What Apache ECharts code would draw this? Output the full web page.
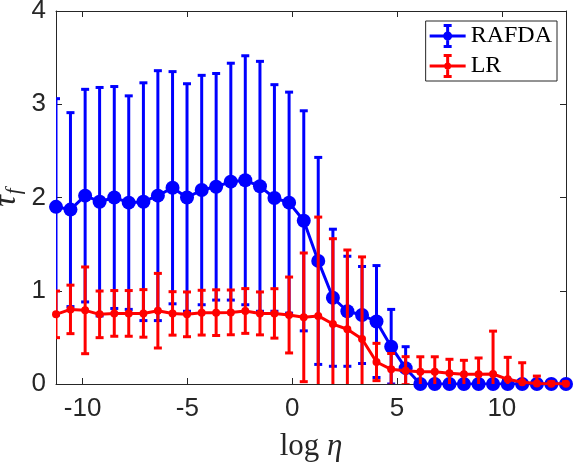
<!DOCTYPE html>
<html>
<head>
<meta charset="utf-8">
<script src="https://cdn.jsdelivr.net/npm/echarts@6/dist/echarts.min.js"></script>
<style>
  html, body { margin: 0; padding: 0; background: #fff; }
  #main { width: 574px; height: 464px; }
</style>
</head>
<body>
<div id="main"></div>
<script>
// x positions (log eta) of the sweep
var logEta = [-11.27, -10.58, -9.88, -9.19, -8.49, -7.80, -7.10, -6.41, -5.71, -5.02,
  -4.32, -3.63, -2.93, -2.24, -1.54, -0.85, -0.15, 0.55, 1.24, 1.94,
  2.63, 3.33, 4.02, 4.72, 5.41, 6.11, 6.80, 7.50, 8.19, 8.89,
  9.58, 10.28, 10.97, 11.67, 12.36, 13.06];

// RAFDA mean and std (error bar half length)
var rafdaMean = [1.90, 1.87, 2.02, 1.955, 2.00, 1.945, 1.955, 2.02, 2.105, 2.00,
  2.08, 2.115, 2.17, 2.185, 2.12, 1.995, 1.945, 1.75, 1.32, 0.925,
  0.78, 0.74, 0.67, 0.40, 0.17, 0, 0, 0, 0, 0,
  0, 0, 0, 0, 0, 0];
var rafdaStd = [1.16, 1.04, 1.14, 1.225, 1.19, 1.145, 1.275, 1.34, 1.245, 1.22,
  1.23, 1.215, 1.27, 1.335, 1.34, 1.215, 1.185, 1.18, 1.11, 0.735,
  0.59, 0.52, 0.60, 0.40, 0.23, 0, 0, 0, 0, 0,
  0, 0, 0, 0, 0, 0];

// LR mean and std
var lrMean = [0.747, 0.80, 0.79, 0.747, 0.757, 0.757, 0.757, 0.786, 0.757, 0.747,
  0.765, 0.765, 0.768, 0.783, 0.757, 0.757, 0.74, 0.715, 0.73, 0.643,
  0.587, 0.483, 0.236, 0.157, 0.143, 0.132, 0.132, 0.115, 0.104, 0.104,
  0.107, 0.05, 0.018, 0.005, 0.003, 0.003];
var lrStd = [0.25, 0.26, 0.465, 0.25, 0.245, 0.245, 0.255, 0.40, 0.233, 0.24,
  0.24, 0.245, 0.24, 0.24, 0.23, 0.265, 0.407, 0.69, 1.06, 0.915,
  0.85, 0.88, 0.20, 0.17, 0.15, 0.16, 0.16, 0.15, 0.15, 0.175,
  0.46, 0.236, 0.21, 0.08, 0.02, 0.02];

var xTicks = [-10, -5, 0, 5, 10];

var axisColor = '#262626';
var sansFont = 'Liberation Sans';
var serifFont = 'Liberation Serif';

function points(mean) {
  var out = [];
  for (var i = 0; i < logEta.length; i++) out.push([logEta[i], mean[i]]);
  return out;
}
function bars(mean, std) {
  var out = [];
  for (var i = 0; i < logEta.length; i++) {
    if (std[i] > 0) out.push([logEta[i], mean[i] - std[i], mean[i] + std[i]]);
  }
  return out;
}

function errRenderer(color) {
  return function (params, api) {
    var x = api.value(0);
    var top = api.coord([x, api.value(2)]);
    var bot = api.coord([x, api.value(1)]);
    var w = 4;
    var style = { stroke: color, lineWidth: 3 };
    return {
      type: 'group',
      children: [
        { type: 'line', shape: { x1: top[0], y1: top[1], x2: bot[0], y2: bot[1] }, style: style },
        { type: 'line', shape: { x1: top[0] - w, y1: top[1], x2: top[0] + w, y2: top[1] }, style: style },
        { type: 'line', shape: { x1: bot[0] - w, y1: bot[1], x2: bot[0] + w, y2: bot[1] }, style: style }
      ]
    };
  };
}

// legend glyph: line + error bar + marker
function legendIcon(r) {
  return 'path://M0,10.5L36,10.5L36,13.5L0,13.5Z' +
    'M16.5,1L19.5,1L19.5,23L16.5,23Z' +
    'M14,0L22,0L22,3L14,3Z M14,21L22,21L22,24L14,24Z' +
    'M18,' + (12 - r) + 'A' + r + ',' + r + ' 0 1 1 18,' + (12 + r) +
    'A' + r + ',' + r + ' 0 1 1 18,' + (12 - r) + 'Z';
}

var chart = echarts.init(document.getElementById('main'));

var tickCommon = { inside: true, length: 6, lineStyle: { color: axisColor, width: 1 } };
var legendText = { fontFamily: serifFont, fontSize: 24, color: '#000' };

var option = {
  animation: false,
  grid: { left: 56, right: 8, top: 11, bottom: 80, containLabel: false, outerBoundsMode: 'none' },
  legend: {
    orient: 'vertical',
    right: 17,
    top: 21,
    itemWidth: 36,
    itemHeight: 24,
    itemGap: 6,
    padding: [3, 5, 3, 4],
    backgroundColor: '#fff',
    borderColor: axisColor,
    borderWidth: 1,
    borderRadius: 0,
    textStyle: legendText,
    data: [
      { name: 'RAFDA', icon: legendIcon(4.5), itemStyle: { color: '#0000ff', borderWidth: 0 }, textStyle: legendText },
      { name: 'LR', icon: legendIcon(3.5), itemStyle: { color: '#ff0000', borderWidth: 0 }, textStyle: legendText }
    ]
  },
  xAxis: [{
    type: 'value',
    min: -11.27,
    max: 13.06,
    position: 'bottom',
    axisLine: { onZero: false, lineStyle: { color: axisColor, width: 1 } },
    axisTick: Object.assign({ customValues: xTicks }, tickCommon),
    axisLabel: { customValues: xTicks, fontFamily: sansFont, fontSize: 26, color: axisColor, margin: 12 },
    splitLine: { show: false },
    name: '{a|log }{b|η}',
    nameLocation: 'middle',
    nameGap: 47,
    nameMoveOverlap: false,
    nameTextStyle: {
      verticalAlign: 'top',
      rich: {
        a: { fontFamily: serifFont, fontSize: 31, color: axisColor },
        b: { fontFamily: serifFont, fontSize: 31, fontStyle: 'italic', color: axisColor }
      }
    }
  }, {
    type: 'value',
    min: -11.27,
    max: 13.06,
    position: 'top',
    axisLine: { onZero: false, lineStyle: { color: axisColor, width: 1 } },
    axisTick: Object.assign({ customValues: xTicks }, tickCommon),
    axisLabel: { show: false },
    splitLine: { show: false }
  }],
  yAxis: [{
    type: 'value',
    min: 0,
    max: 4,
    interval: 1,
    position: 'left',
    axisLine: { show: true, onZero: false, lineStyle: { color: axisColor, width: 1 } },
    axisTick: tickCommon,
    axisLabel: { fontFamily: sansFont, fontSize: 26, color: axisColor, margin: 10 },
    splitLine: { show: false },
    name: '{t|τ}{f|f}',
    nameLocation: 'middle',
    nameRotate: 90,
    nameGap: 31,
    nameMoveOverlap: false,
    nameTextStyle: {
      rich: {
        t: { fontFamily: serifFont, fontSize: 32, fontStyle: 'italic', color: axisColor, lineHeight: 36 },
        f: { fontFamily: serifFont, fontSize: 21, fontStyle: 'italic', color: axisColor,
             lineHeight: 36, verticalAlign: 'bottom', padding: [12, 0, 0, 1] }
      }
    }
  }, {
    type: 'value',
    min: 0,
    max: 4,
    interval: 1,
    position: 'right',
    axisLine: { show: true, onZero: false, lineStyle: { color: axisColor, width: 1 } },
    axisTick: tickCommon,
    axisLabel: { show: false },
    splitLine: { show: false }
  }],
  series: [{
    name: 'RAFDA',
    type: 'custom',
    xAxisIndex: 0,
    yAxisIndex: 0,
    clip: true,
    z: 2,
    encode: { x: 0, y: [1, 2] },
    renderItem: errRenderer('#0000ff'),
    data: bars(rafdaMean, rafdaStd)
  }, {
    name: 'RAFDA',
    type: 'line',
    xAxisIndex: 0,
    yAxisIndex: 0,
    z: 3,
    symbol: 'circle',
    symbolSize: 14,
    showAllSymbol: true,
    color: '#0000ff',
    lineStyle: { color: '#0000ff', width: 3 },
    itemStyle: { color: '#0000ff' },
    data: points(rafdaMean)
  }, {
    name: 'LR',
    type: 'custom',
    xAxisIndex: 0,
    yAxisIndex: 0,
    clip: true,
    z: 4,
    encode: { x: 0, y: [1, 2] },
    renderItem: errRenderer('#ff0000'),
    data: bars(lrMean, lrStd)
  }, {
    name: 'LR',
    type: 'line',
    xAxisIndex: 0,
    yAxisIndex: 0,
    z: 5,
    symbol: 'circle',
    symbolSize: 8,
    showAllSymbol: true,
    color: '#ff0000',
    lineStyle: { color: '#ff0000', width: 3 },
    itemStyle: { color: '#ff0000' },
    data: points(lrMean)
  }]
};

chart.setOption(option);
</script>
</body>
</html>
